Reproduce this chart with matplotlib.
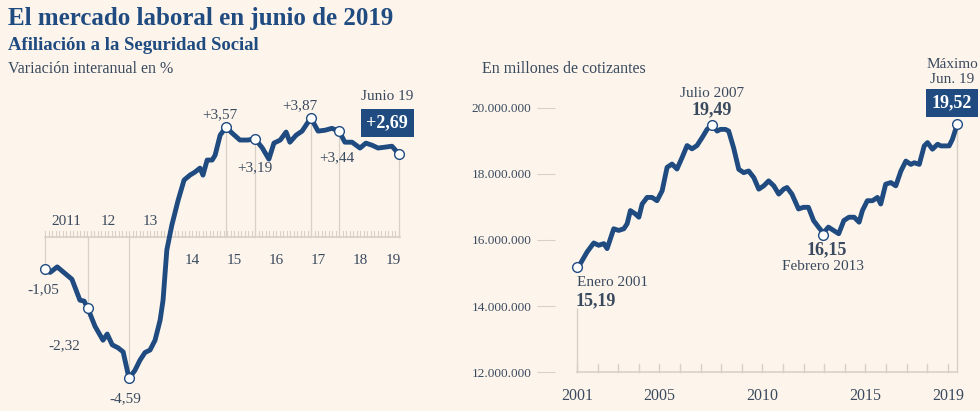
import numpy as np
import matplotlib.pyplot as plt

W, H = 980, 411
BG = '#fdf5ec'
BLUE = '#1f4b80'
GRID = '#d9d0c6'
TXT = '#3a4a5e'
plt.rcParams['font.family'] = ['Liberation Serif', 'DejaVu Serif']

# left: year-on-year change in affiliation (%)
left_x = [2011.0, 2011.12, 2011.29, 2011.43, 2011.64, 2011.83, 2011.93, 2012.02, 2012.19, 2012.38,
          2012.48, 2012.6, 2012.74, 2012.86, 2013.0, 2013.14, 2013.26, 2013.38, 2013.5, 2013.62,
          2013.74, 2013.81, 2013.9, 2014.02, 2014.17, 2014.31, 2014.45, 2014.57, 2014.69, 2014.76,
          2014.86, 2014.98, 2015.05, 2015.17, 2015.31, 2015.45, 2015.64, 2015.83, 2016.0, 2016.17,
          2016.33, 2016.45, 2016.6, 2016.74, 2016.83, 2016.98, 2017.12, 2017.33, 2017.5, 2017.67,
          2017.83, 2018.0, 2018.14, 2018.31, 2018.5, 2018.64, 2018.79, 2018.93, 2019.1, 2019.26, 2019.43]
left_y = [-1.05, -1.15, -0.97, -1.13, -1.37, -2.05, -2.08, -2.32, -2.9, -3.35,
          -3.15, -3.5, -3.6, -3.73, -4.59, -4.33, -4.0, -3.75, -3.67, -3.35,
          -2.7, -2.05, -0.42, 0.39, 1.2, 1.85, 2.01, 2.11, 2.24, 2.01,
          2.5, 2.5, 2.66, 3.31, 3.57, 3.38, 3.15, 3.15, 3.19, 2.9,
          2.53, 3.05, 3.15, 3.41, 3.08, 3.31, 3.44, 3.87, 3.44, 3.47,
          3.53, 3.44, 3.08, 3.08, 2.89, 3.05, 2.98, 2.89, 2.92, 2.95, 2.69]
left_marks = [(2011.0, -1.05, '-1,05'), (2012.02, -2.32, '-2,32'), (2013.0, -4.59, '-4,59'),
              (2015.31, 3.57, '+3,57'), (2016.0, 3.19, '+3,19'), (2017.33, 3.87, '+3,87'),
              (2018.0, 3.44, '+3,44'), (2019.43, 2.69, '+2,69')]
left_years = ['2011', '12', '13', '14', '15', '16', '17', '18', '19']

# right: contributors (millions)
right_x = [2001.0, 2001.49, 2001.81, 2002.05, 2002.3, 2002.46, 2002.78, 2003.02, 2003.27, 2003.43,
           2003.59, 2003.83, 2004.0, 2004.16, 2004.4, 2004.64, 2004.88, 2005.13, 2005.37, 2005.61,
           2005.85, 2006.1, 2006.34, 2006.58, 2006.82, 2007.07, 2007.31, 2007.55, 2007.8, 2007.96,
           2008.2, 2008.36, 2008.6, 2008.85, 2009.09, 2009.33, 2009.58, 2009.82, 2010.06, 2010.3,
           2010.55, 2010.79, 2011.03, 2011.19, 2011.43, 2011.75, 2011.99, 2012.23, 2012.48, 2012.72,
           2012.95, 2013.2, 2013.45, 2013.7, 2013.95, 2014.2, 2014.45, 2014.69, 2014.85, 2015.09,
           2015.34, 2015.58, 2015.74, 2015.98, 2016.23, 2016.47, 2016.72, 2016.96, 2017.2, 2017.37,
           2017.61, 2017.85, 2018.01, 2018.25, 2018.5, 2018.66, 2018.82, 2019.06, 2019.22, 2019.46]
right_y = [15.11, 15.64, 15.91, 15.84, 15.89, 15.74, 16.34, 16.29, 16.34, 16.49,
           16.89, 16.79, 16.69, 17.09, 17.29, 17.29, 17.19, 17.49, 18.2, 18.3,
           18.15, 18.5, 18.86, 18.76, 18.86, 19.1, 19.35, 19.49, 19.3, 19.35,
           19.35, 19.3, 18.79, 18.14, 18.04, 18.09, 17.89, 17.54, 17.64, 17.79,
           17.64, 17.39, 17.54, 17.59, 17.39, 16.94, 16.99, 16.99, 16.59, 16.39,
           16.21, 16.39, 16.29, 16.19, 16.59, 16.69, 16.69, 16.54, 16.89, 17.19,
           17.19, 17.29, 17.09, 17.69, 17.74, 17.64, 18.09, 18.39, 18.29, 18.34,
           18.29, 18.85, 18.95, 18.75, 18.9, 18.85, 18.85, 18.85, 19.05, 19.52]
right_ticks = [12, 14, 16, 18, 20]
right_marks = [(2001.0, 15.19), (2007.55, 19.49), (2012.95, 16.15), (2019.46, 19.52)]


def box(l, t, r, b):
    return [l / W, 1 - b / H, (r - l) / W, (b - t) / H]


fig = plt.figure(figsize=(W / 100, H / 100), dpi=100, facecolor=BG)
fig.text(8 / W, 1 - 18 / H, 'El mercado laboral en junio de 2019', fontsize=18, fontweight='bold',
         color=BLUE, va='center')
fig.text(8 / W, 1 - 46 / H, 'Afiliación a la Seguridad Social', fontsize=13.5, fontweight='bold',
         color=BLUE, va='center')
fig.text(8 / W, 1 - 69 / H, 'Variación interanual en %', fontsize=11.5, color=TXT, va='center')
fig.text(482 / W, 1 - 69 / H, 'En millones de cotizantes', fontsize=11.5, color=TXT, va='center')

# ---- left chart
ax = fig.add_axes(box(40, 80, 410, 395))
ax.set_facecolor(BG)
ax.set_xlim(2010.88, 2019.69)
ax.set_ylim(-5.13, 5.10)
ax.axis('off')
ax.plot([2011, 2019.45], [0, 0], color=GRID, lw=1.2, zorder=1)
for m in np.arange(2011, 2019.5, 1 / 12):
    ax.plot([m, m], [0, 0.2], color=GRID, lw=0.8, zorder=1)
for i, lab in enumerate(left_years):
    yr = 2011 + i
    if i < 3:
        ax.text(yr + 0.5, 0.3, lab, ha='center', va='bottom', fontsize=11, color=TXT)
    else:
        ax.text(yr + 0.5 if i < 8 else yr + 0.3, -0.55, lab, ha='center', va='top',
                fontsize=11, color=TXT)
for x, y, lab in left_marks:
    ax.plot([x, x], [0, y], color=GRID, lw=0.9, zorder=1)
ax.plot(left_x, left_y, color=BLUE, lw=3.5, solid_joinstyle='round', zorder=2)
for x, y, lab in left_marks:
    ax.plot(x, y, 'o', ms=7, mfc='white', mec=BLUE, mew=1, zorder=3)
offs = {'-1,05': (-0.05, -0.65), '-2,32': (-0.55, -1.2), '-4,59': (-0.1, -0.65),
        '+3,57': (-0.15, 0.4), '+3,19': (0.0, -0.95), '+3,87': (-0.25, 0.4),
        '+3,44': (-0.05, -0.85)}
for x, y, lab in left_marks:
    if lab in offs:
        dx, dy = offs[lab]
        ax.text(x + dx, y + dy, lab, ha='center', va='center', fontsize=11, color=TXT)
ax.text(2019.15, 4.55, 'Junio 19', ha='center', va='center', fontsize=11, color=TXT)
ax.text(2019.15, 3.7, '+2,69', ha='center', va='center', fontsize=13, color='white',
        fontweight='bold',
        bbox=dict(boxstyle='square,pad=0.3', fc=BLUE, ec='none', ))

# ---- right chart
ax2 = fig.add_axes(box(555, 100, 965, 380))
ax2.set_facecolor(BG)
ax2.set_xlim(1999.93, 2019.83)
ax2.set_ylim(11.76, 20.24)
for s in ax2.spines.values():
    s.set_visible(False)
ax2.set_yticks(right_ticks)
ax2.set_yticklabels(['{:,}'.format(v * 1000000).replace(',', '.') for v in right_ticks])
ax2.tick_params(axis='y', length=13, color=GRID, labelsize=9.5, labelcolor=TXT, pad=4)
ax2.set_xticks([2001, 2005, 2010, 2015, 2019])
ax2.tick_params(axis='x', length=0, labelsize=11.5, labelcolor=TXT, pad=6)
ax2.plot([2001, 2019.46], [12, 12], color=GRID, lw=1.2, zorder=1)
for yr in range(2001, 2020):
    ax2.plot([yr, yr], [12, 12.25], color=GRID, lw=1, zorder=1)
ax2.plot([2001, 2001], [12, 13.9], color=GRID, lw=1, zorder=1)
ax2.plot([2019.46, 2019.46], [12, 19.52], color=GRID, lw=1, zorder=1)
ax2.plot(right_x, right_y, color=BLUE, lw=3.5, solid_joinstyle='round', zorder=2)
for x, y in right_marks:
    ax2.plot(x, y, 'o', ms=7, mfc='white', mec=BLUE, mew=1, zorder=3)
ax2.text(2001.0, 14.7, 'Enero 2001', ha='left', va='center', fontsize=11, color=TXT)
ax2.text(2000.95, 14.15, '15,19', ha='left', va='center', fontsize=13, fontweight='bold', color=TXT)
ax2.text(2007.55, 20.45, 'Julio 2007', ha='center', va='center', fontsize=11, color=TXT)
ax2.text(2007.55, 19.95, '19,49', ha='center', va='center', fontsize=13, fontweight='bold', color=TXT)
ax2.text(2013.1, 15.72, '16,15', ha='center', va='center', fontsize=13, fontweight='bold', color=TXT)
ax2.text(2012.95, 15.2, 'Febrero 2013', ha='center', va='center', fontsize=11, color=TXT)
ax2.text(2019.2, 21.3, 'Máximo', ha='center', va='center', fontsize=11, color=TXT, clip_on=False)
ax2.text(2019.2, 20.85, 'Jun. 19', ha='center', va='center', fontsize=11, color=TXT)
ax2.text(2019.2, 20.15, '19,52', ha='center', va='center', fontsize=13, color='white',
         fontweight='bold', bbox=dict(boxstyle='square,pad=0.3', fc=BLUE, ec='none'))

fig.savefig('out.png', dpi=100, facecolor=BG)
